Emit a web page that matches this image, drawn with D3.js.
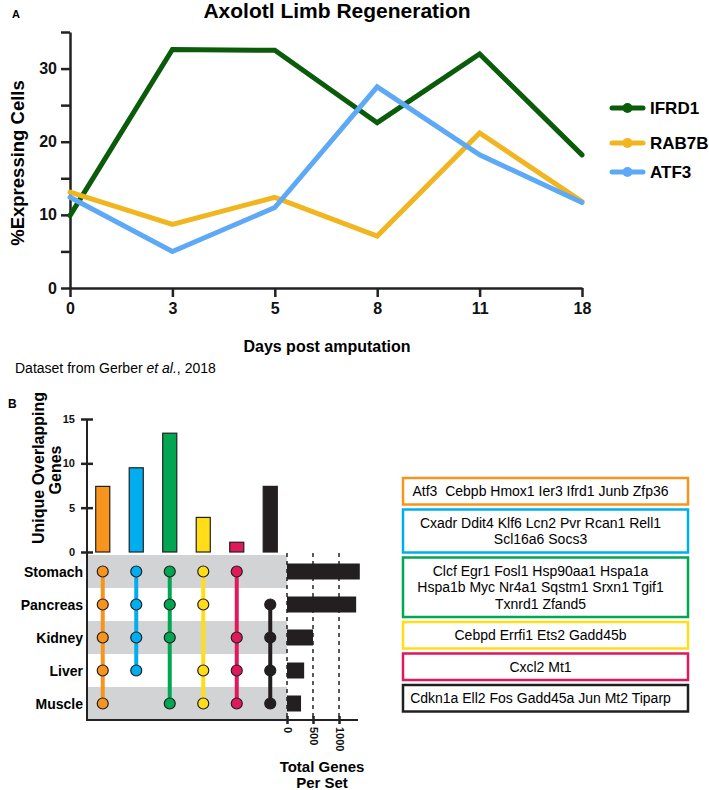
<!DOCTYPE html>
<html>
<head>
<meta charset="utf-8">
<script src="https://cdn.jsdelivr.net/npm/d3@7"></script>
<style>
  body { margin: 0; background: #fff; }
  svg { font-family: Arial, "Liberation Sans", Helvetica, sans-serif; }
  .axis path, .axis line { stroke: #222; }
  .axis text { font-weight: bold; fill: #111; }
</style>
</head>
<body>
<script>
// ---- panel A data ----
const days = ["0", "3", "5", "8", "11", "18"];
const ifrd1 = [9.9, 32.6, 32.5, 22.6, 32.0, 18.2];
const rab7b = [13.1, 8.7, 12.4, 7.1, 21.2, 11.8];
const atf3 = [12.4, 5.0, 11.0, 27.5, 18.2, 11.7];
const genes = ["IFRD1", "RAB7B", "ATF3"];
const geneColors = ["#0a5c0a", "#f0b51f", "#5ea9f6"];

// ---- panel B data ----
const sets = ["Stomach", "Pancreas", "Kidney", "Liver", "Muscle"];
const setTotals = [1400, 1330, 500, 330, 270];
const interSizes = [7.4, 9.5, 13.4, 3.9, 1.1, 7.4];
const interColors = ["#f7941d", "#00aeef", "#00a651", "#ffde17", "#e0195a", "#231f20"];
const interMembers = [
  ["Stomach", "Pancreas", "Kidney", "Liver", "Muscle"],
  ["Stomach", "Pancreas", "Kidney", "Liver"],
  ["Stomach", "Pancreas", "Kidney", "Muscle"],
  ["Stomach", "Pancreas", "Liver", "Muscle"],
  ["Stomach", "Kidney", "Liver", "Muscle"],
  ["Pancreas", "Kidney", "Liver", "Muscle"]
];
const geneLists = [
  ["Atf3  Cebpb Hmox1 Ier3 Ifrd1 Junb Zfp36"],
  ["Cxadr Ddit4 Klf6 Lcn2 Pvr Rcan1 Rell1", "Scl16a6 Socs3"],
  ["Clcf Egr1 Fosl1 Hsp90aa1 Hspa1a", "Hspa1b Myc Nr4a1 Sqstm1 Srxn1 Tgif1", "Txnrd1 Zfand5"],
  ["Cebpd Errfi1 Ets2 Gadd45b"],
  ["Cxcl2 Mt1"],
  ["Cdkn1a Ell2 Fos Gadd45a Jun Mt2 Tiparp"]
];

const width = 709, height = 790;
const svg = d3.select("body").append("svg")
  .attr("width", width)
  .attr("height", height);

// ================= Panel A =================
svg.append("text").attr("x", 12).attr("y", 18)
  .style("font-weight", "bold").style("font-size", "11px").text("A");

svg.append("text")
  .attr("x", 337).attr("y", 18)
  .style("text-anchor", "middle").style("font-weight", "bold").style("font-size", "21px")
  .text("Axolotl Limb Regeneration");

const xA = d3.scalePoint().domain(days).range([70, 582]);
const yA = d3.scaleLinear().domain([0, 35]).range([288, 32]);

const yAxisA = d3.axisLeft(yA)
  .tickValues(d3.range(0, 36, 5))
  .tickFormat(d => d % 10 === 0 ? d : "")
  .tickSize(9).tickSizeOuter(0).tickPadding(4);
svg.append("g").attr("class", "axis")
  .attr("transform", "translate(70,0)")
  .call(yAxisA)
  .call(g => g.selectAll("path, line").attr("stroke-width", 2.5))
  .call(g => g.selectAll("text").style("font-size", "16px"));

const xAxisA = d3.axisBottom(xA).tickSize(9).tickSizeOuter(0).tickPadding(6);
svg.append("g").attr("class", "axis")
  .attr("transform", "translate(0,288)")
  .call(xAxisA)
  .call(g => g.selectAll("path, line").attr("stroke-width", 2.5))
  .call(g => g.selectAll("text").style("font-size", "16px"));

svg.append("text")
  .attr("transform", "translate(24,163) rotate(-90)")
  .style("text-anchor", "middle").style("font-weight", "bold").style("font-size", "18.5px")
  .text("%Expressing Cells");

svg.append("text")
  .attr("x", 327).attr("y", 352)
  .style("text-anchor", "middle").style("font-weight", "bold").style("font-size", "16px")
  .text("Days post amputation");

const dsText = svg.append("text").attr("x", 15).attr("y", 373).style("font-size", "14px");
dsText.append("tspan").text("Dataset from Gerber ");
dsText.append("tspan").style("font-style", "italic").text("et al.");
dsText.append("tspan").text(", 2018");

const line = d3.line().x((d, i) => xA(days[i])).y(d => yA(d));
[ifrd1, rab7b, atf3].forEach((s, k) => {
  svg.append("path")
    .datum(s)
    .attr("d", line)
    .attr("fill", "none")
    .attr("stroke", geneColors[k])
    .attr("stroke-width", 5)
    .attr("stroke-linejoin", "miter")
    .attr("stroke-linecap", "round");
});

const legendY = [108, 143, 172];
const lg = svg.append("g");
genes.forEach((g, i) => {
  lg.append("line").attr("x1", 612).attr("x2", 643).attr("y1", legendY[i]).attr("y2", legendY[i])
    .attr("stroke", geneColors[i]).attr("stroke-width", 5).attr("stroke-linecap", "round");
  lg.append("circle").attr("cx", 627.5).attr("cy", legendY[i]).attr("r", 5).attr("fill", geneColors[i]);
  lg.append("text").attr("x", 650).attr("y", legendY[i] + 6)
    .style("font-weight", "bold").style("font-size", "17px").text(g);
});

// ================= Panel B =================
svg.append("text").attr("x", 8).attr("y", 408)
  .style("font-weight", "bold").style("font-size", "12px").text("B");

const xB = d3.scaleBand().domain(d3.range(interSizes.length)).range([86, 287])
  .paddingInner(0.58).paddingOuter(0.29);
const yBar = d3.scaleLinear().domain([0, 15]).range([552, 419]);
const yRow = d3.scaleBand().domain(sets).range([555, 720]);
const xR = d3.scaleLinear().domain([0, 1000]).range([287, 339]);

// gray bands
svg.selectAll("rect.band")
  .data(sets.filter((s, i) => i % 2 === 0))
  .enter().append("rect")
  .attr("class", "band")
  .attr("x", 88).attr("width", 287 - 88)
  .attr("y", d => yRow(d)).attr("height", yRow.bandwidth())
  .attr("fill", "#d1d3d4");

// top bars
svg.selectAll("rect.inter")
  .data(interSizes)
  .enter().append("rect")
  .attr("class", "inter")
  .attr("x", (d, i) => xB(i)).attr("width", xB.bandwidth())
  .attr("y", d => yBar(d)).attr("height", d => yBar(0) - yBar(d))
  .attr("fill", (d, i) => interColors[i])
  .attr("stroke", "#231f20").attr("stroke-width", 1.2);

const yAxisB = d3.axisLeft(yBar).tickValues([0, 5, 10, 15]).tickSize(6).tickSizeOuter(0).tickPadding(6);
const gyB = svg.append("g").attr("class", "axis")
  .attr("transform", "translate(87,0)")
  .call(yAxisB);
gyB.select(".domain").remove();
gyB.selectAll("line").attr("x2", -6).attr("x1", 6).attr("stroke-width", 2.5);
gyB.selectAll("text").style("font-size", "11px");

svg.append("line").attr("x1", 87).attr("x2", 87).attr("y1", 419).attr("y2", 721)
  .attr("stroke", "#222").attr("stroke-width", 2);
svg.append("line").attr("x1", 86).attr("x2", 358).attr("y1", 720).attr("y2", 720)
  .attr("stroke", "#222").attr("stroke-width", 2);

svg.append("text")
  .attr("transform", "translate(44,468) rotate(-90)")
  .style("text-anchor", "middle").style("font-weight", "bold").style("font-size", "16px")
  .text("Unique Overlapping");
svg.append("text")
  .attr("transform", "translate(61,470) rotate(-90)")
  .style("text-anchor", "middle").style("font-weight", "bold").style("font-size", "16px")
  .text("Genes");

// row labels
svg.selectAll("text.setLabel")
  .data(sets)
  .enter().append("text")
  .attr("class", "setLabel")
  .attr("x", 83).attr("y", d => yRow(d) + yRow.bandwidth() / 2 + 5)
  .style("text-anchor", "end").style("font-weight", "bold").style("font-size", "14px")
  .text(d => d);

// matrix connectors and dots
interMembers.forEach((m, i) => {
  const cx = xB(i) + xB.bandwidth() / 2;
  const ys = m.map(s => yRow(s) + yRow.bandwidth() / 2);
  svg.append("line")
    .attr("x1", cx).attr("x2", cx)
    .attr("y1", d3.min(ys)).attr("y2", d3.max(ys))
    .attr("stroke", interColors[i]).attr("stroke-width", 4);
  svg.selectAll(null)
    .data(ys)
    .enter().append("circle")
    .attr("cx", cx).attr("cy", d => d).attr("r", 5.5)
    .attr("fill", interColors[i])
    .attr("stroke", "#231f20").attr("stroke-width", 1.2);
});

// set size bars
svg.selectAll("rect.setBar")
  .data(setTotals)
  .enter().append("rect")
  .attr("class", "setBar")
  .attr("x", xR(0)).attr("width", d => xR(d) - xR(0))
  .attr("y", (d, i) => yRow(sets[i]) + yRow.bandwidth() / 2 - 8).attr("height", 16)
  .attr("fill", "#231f20");

// dashed gridlines
svg.selectAll("line.grid")
  .data([0, 500, 1000])
  .enter().append("line")
  .attr("class", "grid")
  .attr("x1", d => xR(d)).attr("x2", d => xR(d))
  .attr("y1", 553).attr("y2", 720)
  .attr("stroke", "#222").attr("stroke-width", 1.5)
  .attr("stroke-dasharray", "4,4");

const xAxisR = d3.axisBottom(xR).tickValues([0, 500, 1000]).tickFormat(d3.format("d"))
  .tickSize(4).tickSizeOuter(0);
const gxR = svg.append("g").attr("class", "axis")
  .attr("transform", "translate(0,720)")
  .call(xAxisR);
gxR.select(".domain").remove();
gxR.selectAll("line").attr("y1", -4).attr("y2", 4).attr("stroke-width", 2.5);
gxR.selectAll("text")
  .attr("transform", "rotate(90)")
  .attr("x", 7).attr("y", 0).attr("dy", "0.35em")
  .style("text-anchor", "start").style("font-size", "11px");

svg.append("text").attr("x", 322).attr("y", 772)
  .style("text-anchor", "middle").style("font-weight", "bold").style("font-size", "15px")
  .text("Total Genes");
svg.append("text").attr("x", 322).attr("y", 788)
  .style("text-anchor", "middle").style("font-weight", "bold").style("font-size", "15px")
  .text("Per Set");

// gene list boxes
const boxX = 403, boxW = 285, lineH = 16.5;
let by = 478;
geneLists.forEach((lines, i) => {
  const h = 10 + lines.length * lineH;
  svg.append("rect")
    .attr("x", boxX).attr("y", by).attr("width", boxW).attr("height", h)
    .attr("fill", "#fff").attr("stroke", interColors[i]).attr("stroke-width", 2.5);
  svg.append("text")
    .attr("x", boxX + boxW / 2 - 5).attr("y", by + 5 + lineH / 2 + 5)
    .style("text-anchor", "middle").style("font-size", "14px")
    .style("white-space", "pre")
    .selectAll("tspan")
    .data(lines)
    .enter().append("tspan")
    .attr("x", boxX + boxW / 2 - 5)
    .attr("dy", (d, j) => j === 0 ? 0 : lineH)
    .text(d => d);
  by += h + 5;
});
</script>
</body>
</html>
